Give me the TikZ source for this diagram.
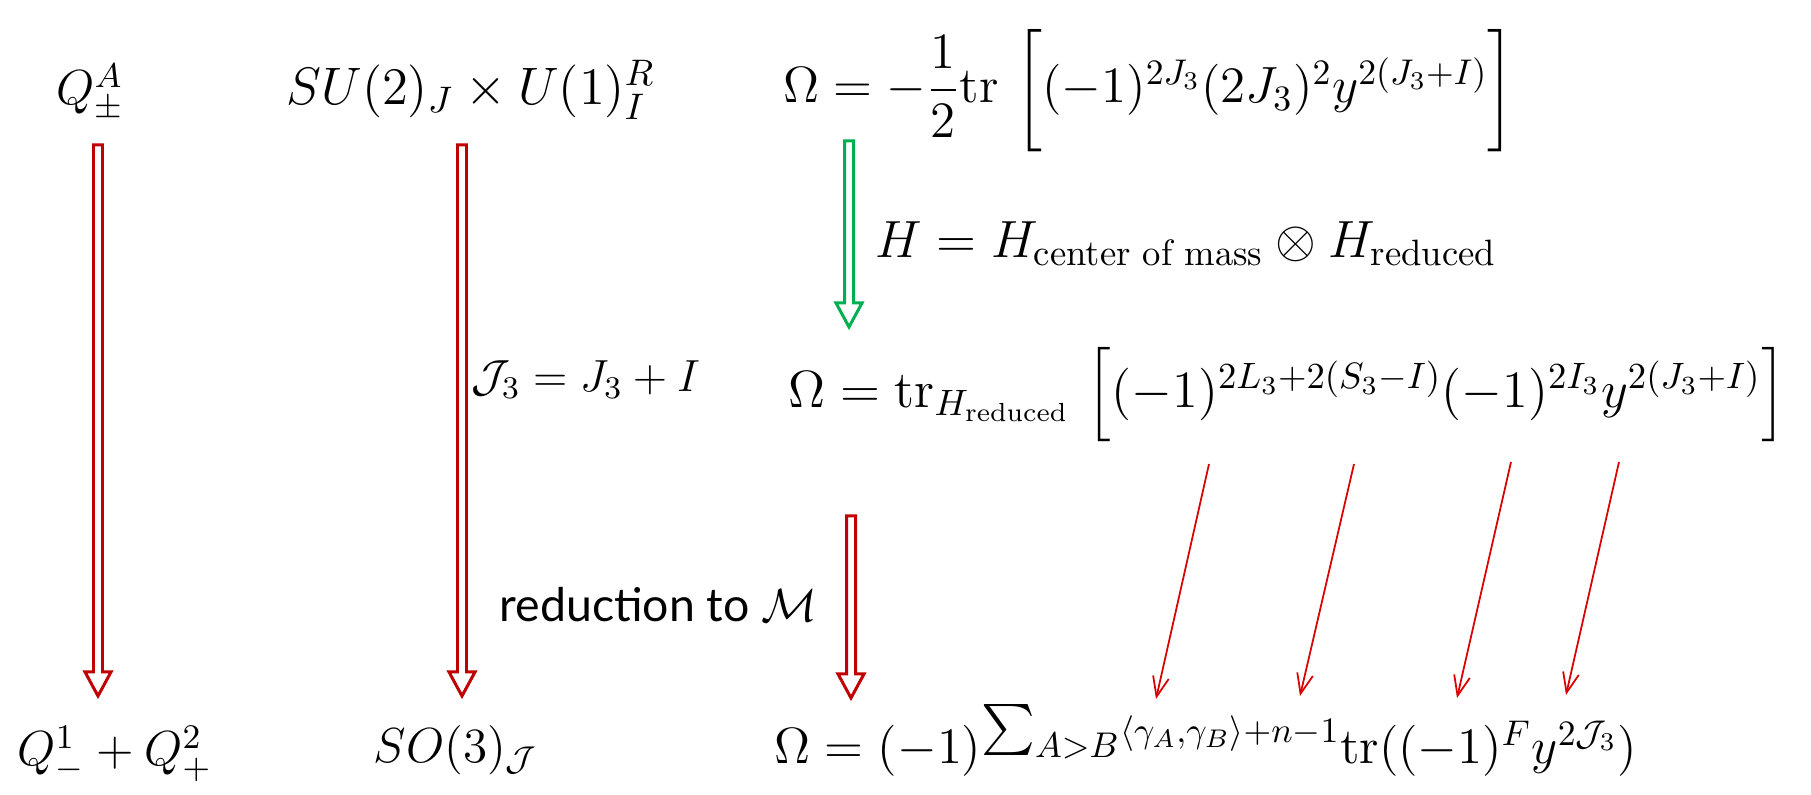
\RequirePackage{fix-cm}
\documentclass[tikz,border=0pt]{standalone}
\usepackage{amsmath,amssymb}
\usepackage{fontspec}
\newfontfamily\gillfont{Lato}
\usetikzlibrary{arrows.meta,positioning}
\definecolor{pptred}{HTML}{C00000}
\definecolor{pptgreen}{HTML}{00B050}
\definecolor{linkred}{HTML}{D80000}
% hollow block arrow: colour, x, top, tip
\newcommand{\hollowdown}[4]{%
  \draw[#1,line width=0.85pt,line join=miter,fill=white]
    ({#2-4.5},#3) -- ({#2+4.5},#3) -- ({#2+4.5},{#4-24}) -- ({#2+13},{#4-24})
    -- (#2,#4) -- ({#2-13},{#4-24}) -- ({#2-4.5},{#4-24}) -- cycle;}
\tikzset{
  eqn/.style={anchor=base west,inner sep=0pt,font=\fontsize{#1}{16}\selectfont},
  eqn/.default=14,
  link/.style={linkred,line width=0.5pt,-{Straight Barb[length=0.2cm,width=0.16cm]}}
}
\begin{document}
\begin{tikzpicture}[x=0.01cm,y=-0.01cm]
  \useasboundingbox (0,0) rectangle (1811,795);
  % top row
  \node[eqn] (qtop) at (56,105) {$Q^A_\pm$};
  \node[eqn=15] (sutop) at (286,105) {$SU(2)_J\times U(1)^R_I$};
  \node[eqn=14.5] (omtop) at (783,103) {$\Omega=-\dfrac{1}{2}\mathrm{tr}\ \biggl[(-1)^{2J_3}(2J_3)^2y^{2(J_3+I)}\biggr]$};
  % middle
  \node[eqn=14.9] (hsplit) at (875,258) {$H=H_{\text{center of mass}}\otimes H_{\text{reduced}}$};
  \node[eqn=12.8] (jshift) at (471,392) {$\mathcal{J}_3=J_3+I$};
  \node[eqn=14.9] (ommid) at (788,408) {$\Omega=\mathrm{tr}_{H_{\text{reduced}}}\ \Bigl[(-1)^{2L_3+2(S_3-I)}(-1)^{2I_3}y^{2(J_3+I)}\Bigr]$};
  \node[eqn,font=\gillfont\fontsize{13.2}{16}\selectfont] (reduce) at (499,622) {reduction to $\mathcal{M}$};
  % bottom row
  \node[eqn] (qbot) at (17,766) {$Q^1_-+Q^2_+$};
  \node[eqn] (sobot) at (373,763) {$SO(3)_{\mathcal{J}}$};
  \node[eqn=14.5] (ombot) at (774,764) {$\Omega=(-1)^{\textstyle\sum_{A>B}\scriptstyle\langle\gamma_A,\gamma_B\rangle+n-1}\mathrm{tr}((-1)^Fy^{2\mathcal{J}_3})$};
  % block arrows
  \hollowdown{pptred}{98}{145}{696}
  \hollowdown{pptred}{462}{145}{696}
  \hollowdown{pptgreen}{849}{141}{327}
  \hollowdown{pptred}{851}{516}{698}
  % exponent links
  \coordinate (s1) at (1209,464); \coordinate (t1) at (1156,699);
  \coordinate (s2) at (1354,464); \coordinate (t2) at (1300,696);
  \coordinate (s3) at (1511,462); \coordinate (t3) at (1457,698);
  \coordinate (s4) at (1619,462); \coordinate (t4) at (1566,695);
  \draw[link] (s1) -- (t1);
  \draw[link] (s2) -- (t2);
  \draw[link] (s3) -- (t3);
  \draw[link] (s4) -- (t4);
\end{tikzpicture}
\end{document}
